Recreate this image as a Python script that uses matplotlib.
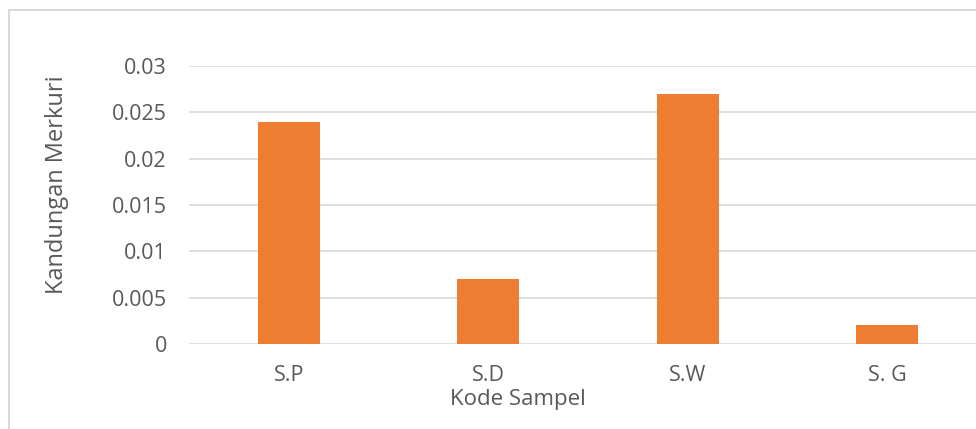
import matplotlib
matplotlib.use('Agg')
import matplotlib.pyplot as plt
from matplotlib.patches import Rectangle

# data
kode = ['S.P', 'S.D', 'S.W', 'S. G']
merkuri = [0.024, 0.007, 0.027, 0.002]
yticks = [0, 0.005, 0.01, 0.015, 0.02, 0.025, 0.03]
ytick_labels = ['0', '0.005', '0.01', '0.015', '0.02', '0.025', '0.03']

plt.rcParams['font.family'] = ['Open Sans', 'DejaVu Sans']
txt = '#595959'

fig = plt.figure(figsize=(9.76, 4.29), dpi=100)
# chart frame (cut off at right and bottom like the screenshot)
fig.patches.append(Rectangle((9/976, -0.1), 1.2, 1 - 10/429 + 0.1, transform=fig.transFigure,
                             fill=False, edgecolor='#d9d9d9', linewidth=1.5))

ax = fig.add_axes([189/976, 85/429, (976-189)/976, (344-66)/429])
x_pos = [i for i, _ in enumerate(kode)]
ax.bar(x_pos, merkuri, width=0.31, color='#ed7d31', zorder=3)
ax.set_xlim(-0.5, -0.5 + (976-189)/199.5)
ax.set_ylim(0, 0.03)
ax.set_xticks(x_pos)
ax.set_xticklabels(kode)
ax.set_yticks(yticks)
ax.set_yticklabels(ytick_labels)
ax.grid(axis='y', color='#d9d9d9', linewidth=1.2, zorder=0)
for s in ax.spines.values():
    s.set_visible(False)
ax.tick_params(length=0, colors=txt, labelsize=15.5)
ax.tick_params(axis='y', pad=16)
ax.tick_params(axis='x', pad=15)
ax.set_xlabel('Kode Sampel', color=txt, fontsize=16, va='center')
ax.xaxis.set_label_coords(0.418, -0.2)
ax.set_ylabel('Kandungan Merkuri', color=txt, fontsize=17, va='center')
ax.yaxis.set_label_coords(-0.168, 0.572)

plt.savefig('out.png')
plt.close('all')
